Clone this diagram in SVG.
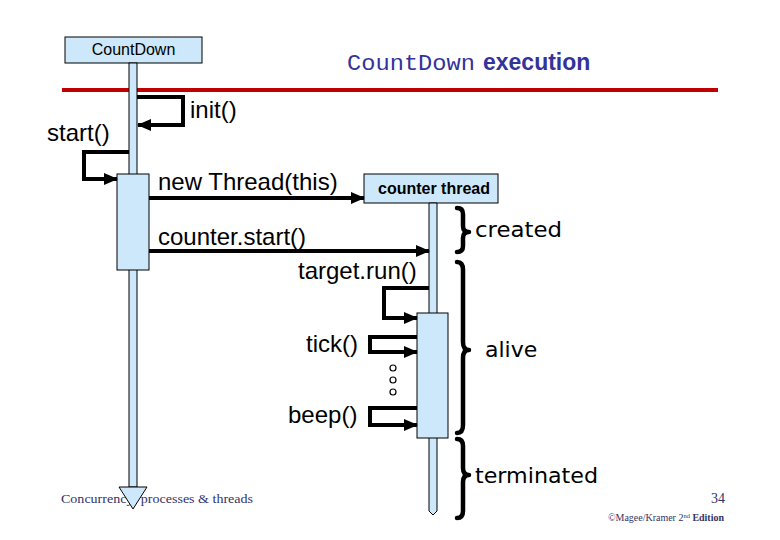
<svg xmlns="http://www.w3.org/2000/svg" width="780" height="540" viewBox="0 0 780 540">
<style>
.lbl{font-family:"Liberation Sans",Arial,sans-serif;font-size:24px;fill:#000}
.box{fill:#CCE8FA;stroke:#000;stroke-width:1}
.msg{fill:none;stroke:#000;stroke-width:4;marker-end:url(#ah)}
.brace{fill:none;stroke:#000;stroke-width:4.5;stroke-linecap:round;stroke-linejoin:round}
.state{font-family:"DejaVu Sans",sans-serif;font-size:22px;fill:#000}
.foot{font-family:"Liberation Serif","Times New Roman",serif;fill:#333366}
</style>
<defs>
<marker id="ah" markerUnits="userSpaceOnUse" markerWidth="14" markerHeight="12" refX="13" refY="6" orient="auto">
<path d="M0,0 L14,6 L0,12 z" fill="#000"/>
</marker>
</defs>
<rect width="780" height="540" fill="#fff"/>

<text class="foot" x="61" y="503" font-size="13.5" textLength="192" lengthAdjust="spacingAndGlyphs">Concurrency: processes &amp; threads</text>
<text class="foot" x="711" y="503" font-size="14">34</text>
<text class="foot" x="608" y="521" font-size="10" textLength="116" lengthAdjust="spacingAndGlyphs">©Magee/Kramer 2<tspan font-size="6.5" dy="-3.5">nd</tspan><tspan dy="3.5" font-weight="bold"> Edition</tspan></text>

<text x="347" y="70" font-family="'Liberation Mono','Courier New',monospace" font-size="22" fill="#333399" textLength="128" lengthAdjust="spacingAndGlyphs">CountDown</text>
<text x="483" y="70" font-family="'Liberation Sans',Arial,sans-serif" font-size="23" font-weight="bold" fill="#333399">execution</text>
<rect x="62" y="88" width="656" height="4" fill="#C00000"/>

<g id="countdown">
<rect class="box" x="65" y="37" width="137" height="26"/>
<text x="133.5" y="55" text-anchor="middle" font-family="'Liberation Sans',Arial,sans-serif" font-size="16">CountDown</text>
<rect class="box" x="129" y="63" width="8" height="424"/>
<path class="box" d="M119,487 L147,487 L133,509 z"/>
<rect class="box" x="117" y="174" width="32" height="96"/>
</g>

<g id="counter-thread">
<rect class="box" x="364" y="174" width="134" height="29"/>
<text x="434" y="194" text-anchor="middle" font-family="'Liberation Sans',Arial,sans-serif" font-size="16" font-weight="bold">counter thread</text>
<path class="box" d="M429,203 L437,203 L437,511 L433,515 L429,511 z"/>
<rect class="box" x="417" y="313" width="31" height="125"/>
</g>

<g id="connectors">
<path class="msg" d="M137,97 L183,97 L183,125 L138,125"/>
<path class="msg" d="M129,152 L84,152 L84,179 L117,179"/>
<path class="msg" d="M149,198 L364,198"/>
<path class="msg" d="M149,251 L429,251"/>
<path class="msg" d="M429,288 L384,288 L384,318 L417,318"/>
<path class="msg" d="M417,337 L370,337 L370,352 L417,352"/>
<path class="msg" d="M417,408 L370,408 L370,425 L417,425"/>
</g>

<g id="dots" fill="#fff" stroke="#000" stroke-width="1.2">
<circle cx="393" cy="368" r="3"/>
<circle cx="393" cy="380" r="3"/>
<circle cx="393" cy="392" r="3"/>
</g>

<g id="labels">
<text class="lbl" x="190" y="118">init()</text>
<text class="lbl" x="47" y="141">start()</text>
<text class="lbl" x="158" y="190">new Thread(this)</text>
<text class="lbl" x="158" y="245">counter.start()</text>
<text class="lbl" x="298" y="279">target.run()</text>
<text class="lbl" x="306" y="352">tick()</text>
<text class="lbl" x="288" y="423">beep()</text>
</g>

<g id="states">
<path class="brace" d="M457,208 Q463,208 463,214 L463,226 Q463,232 469,232 Q463,232 463,238 L463,246 Q463,252 457,252"/>
<text class="state" x="475" y="237" textLength="87" lengthAdjust="spacingAndGlyphs">created</text>
<path class="brace" d="M457,262 Q463,262 463,270 L463,342 Q463,350 469,350 Q463,350 463,358 L463,425 Q463,433 457,433"/>
<text class="state" x="485" y="357">alive</text>
<path class="brace" d="M457,439 Q463,439 463,446 L463,468 Q463,475 469,475 Q463,475 463,482 L463,511 Q463,518 457,518"/>
<text class="state" x="475" y="483" textLength="123" lengthAdjust="spacingAndGlyphs">terminated</text>
</g>
</svg>
